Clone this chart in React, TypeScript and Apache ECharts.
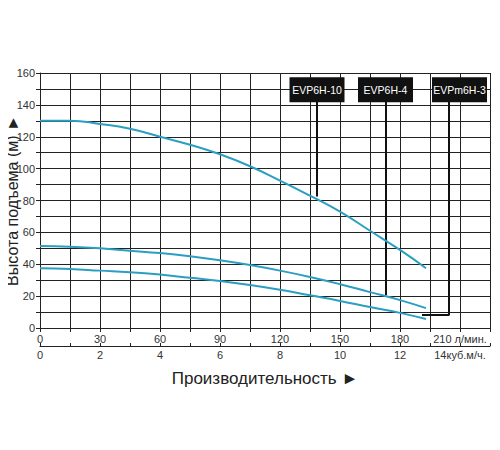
import React, { useEffect, useRef } from 'react';
import * as echarts from 'echarts';

// flow, l/min
const flow = [0, 15, 30, 45, 60, 75, 90, 105, 120, 135, 150, 165, 180, 193];
// head, m
const evp6h10 = [130, 130, 128, 125, 120, 115, 109, 101.5, 92.5, 83, 73, 61, 49, 37.5];
const evp6h4 = [51.5, 51, 50, 48.5, 47, 45, 42.5, 39.5, 36, 32, 27.5, 22.5, 17.5, 12.5];
const evpm6h3 = [37.5, 37, 36, 35, 33.5, 31.5, 29.5, 27, 24, 20.5, 17, 13.2, 9.5, 5.6];

const models = ['EVP6H-10', 'EVP6H-4', 'EVPm6H-3'];
const boxX = [138.5, 172.75, 209.75];
const boxY = 149.5;
const leaders = [
  [[138.5, 82.5], [138.5, 145]],
  [[173, 20.5], [173, 145]],
  [[191, 8.2], [204.5, 8.2], [204.5, 145]],
];

const FONT = '"Liberation Sans", Arial, sans-serif';
const CURVE = '#2a9fc2';

export default function App() {
  const ref = useRef<HTMLDivElement>(null);
  useEffect(() => {
    if (!ref.current) return;
    const chart = echarts.init(ref.current, undefined, { renderer: 'svg' });
    const curve = (name: string, vals: number[]) => ({
      name,
      type: 'line',
      data: flow.map((f, i) => [f, vals[i]]),
      smooth: 0.5,
      showSymbol: false,
      lineStyle: { color: CURVE, width: 2 },
      z: 5,
    });
    chart.setOption({
      animation: false,
      textStyle: { fontFamily: FONT },
      grid: { left: 40, right: 10, top: 73, bottom: 122, outerBoundsMode: 'none', containLabel: false },
      xAxis: [
        {
          type: 'value',
          min: 0,
          max: 225,
          interval: 15,
          axisLine: { show: true, lineStyle: { color: '#222' } },
          axisTick: { show: true, length: 4, lineStyle: { color: '#222' } },
          splitLine: { show: true, lineStyle: { color: '#222', width: 1 } },
          axisLabel: {
            color: '#333',
            fontSize: 11,
            margin: 5,
            formatter: (v: number) =>
              v % 30 !== 0 || v > 210 ? '' : v === 210 ? '210 л/мин.' : String(v),
          },
        },
        {
          type: 'value',
          position: 'bottom',
          offset: 18,
          min: 0,
          max: 15,
          interval: 1,
          axisLine: { show: true, lineStyle: { color: '#222' } },
          axisTick: { show: true, inside: true, length: 3, lineStyle: { color: '#222' } },
          splitLine: { show: false },
          axisLabel: {
            color: '#333',
            fontSize: 11,
            margin: 3,
            formatter: (v: number) =>
              v % 2 !== 0 || v > 14 ? '' : v === 14 ? '14куб.м/ч.' : String(v),
          },
          name: 'Производительность ►',
          nameLocation: 'middle',
          nameGap: 24,
          nameMoveOverlap: false,
          nameTextStyle: { color: '#222', fontSize: 17, fontFamily: FONT },
        },
      ],
      yAxis: {
        type: 'value',
        min: 0,
        max: 160,
        interval: 10,
        axisLine: { show: true, lineStyle: { color: '#222' } },
        axisTick: { show: true, length: 4, lineStyle: { color: '#222' } },
        splitLine: { show: true, lineStyle: { color: '#222', width: 1 } },
        axisLabel: {
          color: '#333',
          fontSize: 11,
          margin: 5,
          formatter: (v: number) => (v % 20 === 0 ? String(v) : ''),
        },
        name: 'Высота подъема (м) ►',
        nameLocation: 'middle',
        nameGap: 20,
        nameRotate: 90,
        nameMoveOverlap: false,
        nameTextStyle: { color: '#222', fontSize: 16, fontFamily: FONT },
      },
      series: [
        curve(models[0], evp6h10),
        curve(models[1], evp6h4),
        curve(models[2], evpm6h3),
        ...leaders.map((pts) => ({
          type: 'line',
          data: pts,
          showSymbol: false,
          lineStyle: { color: '#111', width: 2 },
          z: 3,
        })),
        {
          type: 'scatter',
          symbol: 'rect',
          symbolSize: [55, 25],
          itemStyle: { color: '#111', opacity: 1 },
          data: models.map((m, i) => ({ name: m, value: [boxX[i], boxY] })),
          label: {
            show: true,
            position: 'inside',
            formatter: (p: any) => p.name,
            color: '#fff',
            fontSize: 10.5,
            fontFamily: FONT,
          },
          z: 6,
        },
      ],
    });
    return () => {
      chart.dispose();
    };
  }, []);
  return <div ref={ref} style={{ width: 500, height: 450, margin: -8 }} />;
}
